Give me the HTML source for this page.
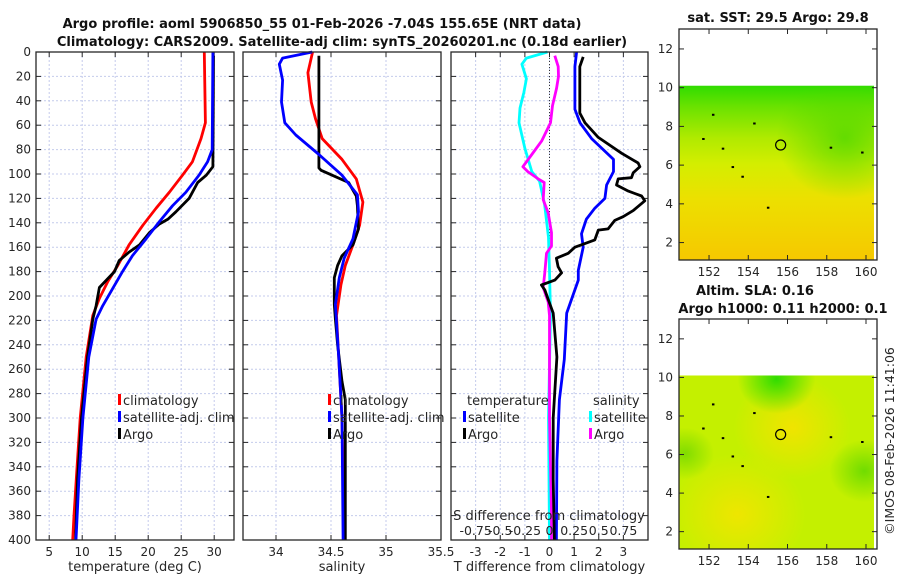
<!DOCTYPE html>
<html><head><meta charset="utf-8"><style>
body{margin:0;background:#fff}
svg{display:block;font-family:"DejaVu Sans","Liberation Sans",sans-serif}
</style></head><body>
<svg id="c" width="900" height="580" xmlns="http://www.w3.org/2000/svg">
<defs>
<linearGradient id="g1" x1="0" y1="0" x2="0" y2="1">
<stop offset="0" stop-color="#30dc00"/><stop offset="0.12" stop-color="#6ae200"/><stop offset="0.3" stop-color="#b0ea00"/><stop offset="0.45" stop-color="#d4ee00"/><stop offset="0.65" stop-color="#ece000"/><stop offset="1" stop-color="#f6c800"/></linearGradient>
<radialGradient id="gr1" cx="0.85" cy="0.3" r="0.35"><stop offset="0" stop-color="#50d800" stop-opacity="0.8"/><stop offset="1" stop-color="#50d800" stop-opacity="0"/></radialGradient>
<radialGradient id="y2a" cx="0.58" cy="0.3" r="0.3"><stop offset="0" stop-color="#f0e400"/><stop offset="1" stop-color="#f0e400" stop-opacity="0"/></radialGradient>
<radialGradient id="y2b" cx="0.3" cy="0.8" r="0.35"><stop offset="0" stop-color="#eee600"/><stop offset="1" stop-color="#eee600" stop-opacity="0"/></radialGradient>
<radialGradient id="g2a" cx="0.5" cy="0.02" r="0.2"><stop offset="0" stop-color="#30dc00"/><stop offset="1" stop-color="#30dc00" stop-opacity="0"/></radialGradient>
<radialGradient id="g2b" cx="0.95" cy="0.55" r="0.18"><stop offset="0" stop-color="#70dc00"/><stop offset="1" stop-color="#70dc00" stop-opacity="0"/></radialGradient>
<radialGradient id="g2c" cx="0.03" cy="0.45" r="0.15"><stop offset="0" stop-color="#80dc00"/><stop offset="1" stop-color="#80dc00" stop-opacity="0"/></radialGradient>
</defs>
<g id="root"></g>
</svg>
<script>
// ---- data ----
const depthClim=[0,58,71,90,101,115,128,142,158,175,188,202,216,250,300,350,380,400];
const tempClim=[28.5,28.66,28,26.7,25.2,23.2,21.2,19.2,17.1,15.4,13.9,12.6,11.6,10.6,9.7,9.1,8.75,8.56];
const depthSat=[0,80,90,101,115,126,139,153,167,180,194,208,219,250,300,350,400];
const tempSat=[29.8,29.7,29,27.7,25.7,23.7,21.7,19.7,17.6,16.1,14.6,13.1,12.1,11,10.1,9.5,9.06];
const depthArgoT=[3,94,101,107,115,120,131,137,141,148,158,164,171,180,193,208,219,250,300,350,400];
const tempArgo=[29.9,29.8,28.8,27.5,26.7,26.2,24.2,23,21.7,20.2,18.7,17.1,15.6,14.9,12.6,12.1,11.6,10.8,9.9,9.3,9.0];

const depthSClim=[0,17,41,55,71,88,104,123,142,158,175,191,216,250,300,400];
const salClim=[34.333,34.29,34.32,34.36,34.42,34.6,34.73,34.79,34.76,34.7,34.63,34.59,34.55,34.57,34.6,34.62];
const depthSSat=[0,5,10,23,41,58,68,84,101,117,131,153,169,185,207,250,300,400];
const salSat=[34.33,34.06,34.03,34.06,34.05,34.08,34.18,34.39,34.6,34.74,34.75,34.7,34.62,34.575,34.54,34.57,34.6,34.61];
const depthSArgo=[3,95,97,101,107,118,126,145,158,167,175,185,207,219,240,270,285,300,400];
const salArgo=[34.39,34.39,34.41,34.51,34.66,34.73,34.74,34.75,34.7,34.6,34.56,34.53,34.53,34.54,34.56,34.6,34.63,34.63,34.63];

const depthTdSat=[0,12,47,58,71,88,98,109,120,128,137,149,160,179,187,214,252,285,335,400];
const tdiffSat=[1.1,1.03,1.03,1.24,1.71,2.6,2.6,2.32,2.25,1.84,1.5,1.3,1.37,1.17,1.17,0.7,0.6,0.4,0.3,0.28];
const depthTdArgo=[4,12,50,58,70,83,91,94,99,103,104,109,114,118,122,130,135,138,145,146,154,158,160,165,169,176,181,187,191,195,203,214,250,300,350,400];
const tdiffArgo=[1.37,1.23,1.23,1.44,1.98,2.93,3.6,3.67,3.4,3.33,2.79,2.72,3.2,3.74,3.87,3.4,2.99,2.65,2.38,1.98,1.84,1.3,1.03,0.76,0.28,0.35,0.49,0.22,-0.33,-0.19,-0.05,0.15,0.3,0.15,0.15,0.2];
const depthSdSat=[0,5,10,22,33,46,58,79,98,106,125,152,179,215,300,400];
const sdiffSat=[-0.02,-0.235,-0.28,-0.235,-0.26,-0.3,-0.31,-0.25,-0.18,-0.1,-0.05,-0.01,0,0.01,-0.01,0];
const depthSdArgo=[3,12,20,30,44,58,73,84,94,98,104,107,121,132,148,159,165,181,193,205,216,300,377,400];
const sdiffArgo=[0.054,0.088,0.091,0.071,0.03,0.01,-0.08,-0.18,-0.27,-0.22,-0.115,-0.054,-0.064,-0.013,0.02,0.02,-0.03,-0.048,-0.064,-0.013,0,0,0.02,0.02];

const depthTicks=[0,20,40,60,80,100,120,140,160,180,200,220,240,260,280,300,320,340,360,380,400];
const tTicks=[5,10,15,20,25,30];
const sTicks=[34,34.5,35,35.5];
const dTicks=[-3,-2,-1,0,1,2,3];
const sdTickLabels=["-0.75","-0.5","-0.25","0","0.25","0.5","0.75"];
const sdTicks=[-0.75,-0.5,-0.25,0,0.25,0.5,0.75];
const latTicks=[2,4,6,8,10,12];
const lonTicks=[152,154,156,158,160];
const argoLon=155.65, argoLat=7.04;

// ---- helpers ----
const NS="http://www.w3.org/2000/svg";
const root=document.getElementById('root');
function mk(tag,attrs,parent,txt){const e=document.createElementNS(NS,tag);for(const k in attrs)e.setAttribute(k,attrs[k]);if(txt!==undefined)e.textContent=txt;(parent||root).appendChild(e);return e;}
const Y0=52,Y1=540;
const yD=d=>Y0+(d/400)*(Y1-Y0);
function lin(d0,d1,r0,r1){return v=>r0+(v-d0)/(d1-d0)*(r1-r0);}

function panel(name,x0,x1,xs,ticks,labels,xlabel,showY){
  const g=mk('g',{});
  
  
  ticks.forEach(t=>{const x=xs(t);if(x>x0+1&&x<x1-1)mk('line',{x1:x,y1:Y0,x2:x,y2:Y1,stroke:'#c4cbec','stroke-width':1,'stroke-dasharray':'2,2'},g);});
  depthTicks.forEach(d=>{const y=yD(d);mk('line',{x1:x0,y1:y,x2:x1,y2:y,stroke:'#c4cbec','stroke-width':1,'stroke-dasharray':'2,2'},g);
    mk('line',{x1:x0,y1:y,x2:x0+5,y2:y,stroke:'#262626'},g);mk('line',{x1:x1-5,y1:y,x2:x1,y2:y,stroke:'#262626'},g);
    if(showY){const t=mk('text',{x:x0-5,y:y+4,'text-anchor':'end','font-size':12,fill:'#262626'},g,String(d));}});
  ticks.forEach((t,i)=>{const x=xs(t);mk('line',{x1:x,y1:Y1,x2:x,y2:Y1-5,stroke:'#262626'},g);mk('line',{x1:x,y1:Y0,x2:x,y2:Y0+5,stroke:'#262626'},g);
    const tl=mk('text',{x:x,y:Y1+16,'text-anchor':'middle','font-size':12,fill:'#262626'},g,labels[i]);});
  const xl=mk('text',{x:(x0+x1)/2,y:571,'text-anchor':'middle','font-size':13,fill:'#262626'},g,xlabel);
  
  return g;
}
function frame(x0,x1){mk('rect',{x:x0,y:Y0,width:x1-x0,height:Y1-Y0,fill:'none',stroke:'#262626','stroke-width':1.3});}
function curve(name,xs,vals,depths,color,scale){
  const pts=vals.map((v,i)=>xs(v*(scale||1)).toFixed(1)+','+yD(depths[i]).toFixed(1)).join(' ');
  const p=mk('polyline',{points:pts,fill:'none',stroke:color,'stroke-width':2.8,'stroke-linejoin':'round'});
  
}
function legend(name,x,y,entries,title){
  const g=mk('g',{});
  if(title){mk('text',{x:x+4,y:y,'font-size':13,fill:'#262626'},g,title);y+=17;}
  entries.forEach(([c,t])=>{const e=mk('g',{},g);
    mk('rect',{x:x,y:y-11,width:3,height:11,fill:c},e);mk('text',{x:x+5,y:y,'font-size':13,fill:'#262626'},e,t);y+=17;});
}

// ---- title ----
const t1=mk('text',{x:322,y:28,'text-anchor':'middle','font-size':13,'font-weight':'bold',fill:'#111'},root,'Argo profile: aoml 5906850_55 01-Feb-2026 -7.04S 155.65E (NRT data)');

const t2=mk('text',{x:342,y:46,'text-anchor':'middle','font-size':13,'font-weight':'bold',fill:'#111'},root,'Climatology: CARS2009. Satellite-adj clim: synTS_20260201.nc (0.18d earlier)');


// ---- panel 1 temperature ----
const xT=lin(3,33,36,234);
panel('temperature-panel',36,234,xT,tTicks,tTicks.map(String),'temperature (deg C)',true);
curve('climatology-temperature-line',xT,tempClim,depthClim,'#ff0000');
curve('argo-temperature-line',xT,tempArgo,depthArgoT,'#000000');
curve('satellite-temperature-line',xT,tempSat,depthSat,'#0000ff');
legend('temperature-legend',118,405,[['#ff0000','climatology'],['#0000ff','satellite-adj. clim'],['#000000','Argo']]);
frame(36,234);

// ---- panel 2 salinity ----
const xS=lin(33.7,35.5,243,441);
panel('salinity-panel',243,441,xS,sTicks,sTicks.map(String),'salinity',false);
curve('climatology-salinity-line',xS,salClim,depthSClim,'#ff0000');
curve('argo-salinity-line',xS,salArgo,depthSArgo,'#000000');
curve('satellite-salinity-line',xS,salSat,depthSSat,'#0000ff');
legend('salinity-legend',328,405,[['#ff0000','climatology'],['#0000ff','satellite-adj. clim'],['#000000','Argo']]);
frame(243,441);

// ---- panel 3 differences ----
const xD=lin(-4,4,451,648);
panel('difference-panel',451,648,xD,dTicks,dTicks.map(String),'T difference from climatology',false);
mk('line',{x1:xD(0),y1:Y0,x2:xD(0),y2:Y1,stroke:'#333','stroke-width':1,'stroke-dasharray':'1,2'});
curve('satellite-salinity-diff-line',xD,sdiffSat,depthSdSat,'#00ffff',4);
curve('argo-salinity-diff-line',xD,sdiffArgo,depthSdArgo,'#ff00ff',4);
curve('satellite-temperature-diff-line',xD,tdiffSat,depthTdSat,'#0000ff');
curve('argo-temperature-diff-line',xD,tdiffArgo,depthTdArgo,'#000000');
legend('temperature-diff-legend',463,405,[['#0000ff','satellite'],['#000000','Argo']],'temperature');
legend('salinity-diff-legend',589,405,[['#00ffff','satellite'],['#ff00ff','Argo']],'salinity');
const sdt=mk('text',{x:549,y:520,'text-anchor':'middle','font-size':13,fill:'#262626'},root,'S difference from climatology');

sdTicks.forEach((s,i)=>{const t=mk('text',{x:xD(s*4),y:535,'text-anchor':'middle','font-size':12.5,fill:'#262626'},root,sdTickLabels[i]);
  });
frame(451,648);

// ---- maps ----
function map(name,top,bot,titles,fills){
  const g=mk('g',{});
  const xL=lin(150.47,160.56,679,877), yL=lin(1.1,13.03,bot,top);
  const dTop=yL(10.1);
  fills.forEach(f=>mk('rect',{x:679,y:dTop,width:195,height:bot-dTop,fill:f},g));
  [[151.7,7.35],[154.3,8.15],[158.2,6.9],[153.7,5.4],[155,3.8],[152.2,8.6],[159.8,6.65],[152.7,6.85],[153.2,5.9]].forEach(([a,b])=>mk('rect',{x:xL(a)-1,y:yL(b)-1,width:2.5,height:2,fill:'#000'},g));
  const c=mk('circle',{cx:xL(argoLon),cy:yL(argoLat),r:5,fill:'none',stroke:'#000','stroke-width':1.2},g);
  
  mk('rect',{x:679,y:top,width:198,height:bot-top,fill:'none',stroke:'#262626','stroke-width':1.3},g);
  latTicks.forEach(v=>{const y=yL(v);mk('line',{x1:679,y1:y,x2:684,y2:y,stroke:'#262626'},g);mk('line',{x1:872,y1:y,x2:877,y2:y,stroke:'#262626'},g);
    const t=mk('text',{x:673,y:y+4,'text-anchor':'end','font-size':12,fill:'#262626'},g,String(v));});
  lonTicks.forEach(v=>{const x=xL(v);mk('line',{x1:x,y1:bot,x2:x,y2:bot-5,stroke:'#262626'},g);mk('line',{x1:x,y1:top,x2:x,y2:top+5,stroke:'#262626'},g);
    const t=mk('text',{x:x,y:bot+16,'text-anchor':'middle','font-size':12,fill:'#262626'},g,String(v));});
  titles.forEach(([tx,x,y])=>{const t=mk('text',{x:x,y:y,'text-anchor':'middle','font-size':13,'font-weight':'bold',fill:'#111'},g,tx);});
}
map('sst-map',29,260,[['sat. SST: 29.5 Argo: 29.8',778,22]],['url(#g1)','url(#gr1)']);
map('sla-map',319,549,[['Altim. SLA: 0.16',755,295],['Argo h1000: 0.11 h2000: 0.1',783,313]],['#c4f000','url(#y2a)','url(#y2b)','url(#g2a)','url(#g2b)','url(#g2c)']);

const cp=mk('text',{x:0,y:0,'text-anchor':'middle','font-size':12.5,fill:'#262626',transform:'translate(894,441) rotate(-90)'},root,'©IMOS 08-Feb-2026 11:41:06');

</script>
</body></html>
